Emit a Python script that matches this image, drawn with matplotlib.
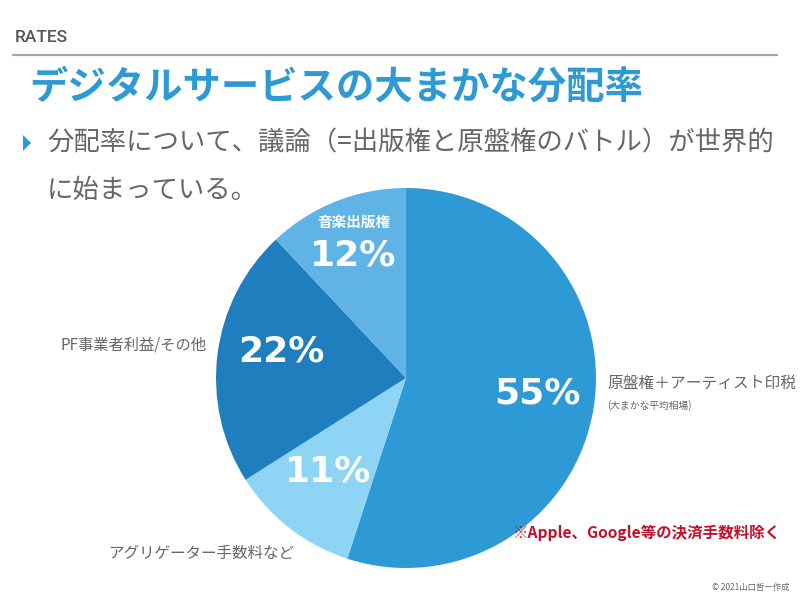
import matplotlib.pyplot as plt
from matplotlib.patches import Polygon

plt.rcParams['font.family'] = ['Noto Sans CJK JP', 'DejaVu Sans']

# data
shares = [55, 11, 22, 12]
pct_labels = ['55%', '11%', '22%', '12%']
colors = ['#2e9ad5', '#8ed4f4', '#1f7fbe', '#60b4e5']
gray = '#666666'
blue = '#2e9ad5'

W, H = 800, 594
fig = plt.figure(figsize=(8, 5.94), dpi=100)
ax = fig.add_axes([0, 0, 1, 1])


def Y(y):
    # pixel row from top -> data y
    return H - y


# header
ax.text(15, Y(37), 'RATES', fontsize=12.5, color='#555555', fontweight='medium',
        va='center', ha='left', family=['Roboto', 'DejaVu Sans'])
ax.plot([13, 777], [Y(55), Y(55)], color='#a8a8a8', lw=1.6)

# title
ax.text(29, Y(87), 'デジタルサービスの大まかな分配率', fontsize=27.6, color=blue,
        fontweight='bold', va='center', ha='left')

# bullet
ax.add_patch(Polygon([[23, Y(135)], [23, Y(151)], [31, Y(143)]], closed=True,
                     color=blue, lw=0))
ax.text(47, Y(143), '分配率について、議論（=出版権と原盤権のバトル）が世界的',
        fontsize=19, color=gray, va='center', ha='left')
ax.text(47, Y(190), 'に始まっている。', fontsize=19, color=gray, va='center', ha='left')

# pie
wedges, _ = ax.pie(shares, colors=colors, startangle=90, counterclock=False,
                   center=(406, Y(378)), radius=190, frame=True,
                   wedgeprops=dict(linewidth=0))
ax.set_xlim(0, W)
ax.set_ylim(0, H)
ax.set_aspect('equal')
ax.axis('off')

pct_pos = [(537, 393), (328, 472), (281, 352), (353, 256)]
for (px, py), lab in zip(pct_pos, pct_labels):
    ax.text(px, Y(py), lab, fontsize=26, color='white', fontweight='bold',
            ha='center', va='center', family=['DejaVu Sans'])

ax.text(354, Y(222), '音楽出版権', fontsize=10.5, color='white', fontweight='bold',
        ha='center', va='center')

# outside labels
ax.text(607, Y(383), '原盤権＋アーティスト印税', fontsize=11.3, color=gray,
        ha='left', va='center')
ax.text(607, Y(406), '(大まかな平均相場)', fontsize=7, color=gray,
        ha='left', va='center')
ax.text(60, Y(345), 'PF事業者利益/その他', fontsize=11, color=gray,
        ha='left', va='center')
ax.text(108, Y(553), 'アグリゲーター手数料など', fontsize=11.2, color=gray,
        ha='left', va='center')
ax.text(513, Y(533), '※Apple、Google等の決済手数料除く', fontsize=11.2,
        color='#c0122c', fontweight='bold', ha='left', va='center')
ax.text(790, Y(587), '© 2021山口哲一作成', fontsize=6, color=gray,
        ha='right', va='center')

fig.savefig('out.png', dpi=100)
